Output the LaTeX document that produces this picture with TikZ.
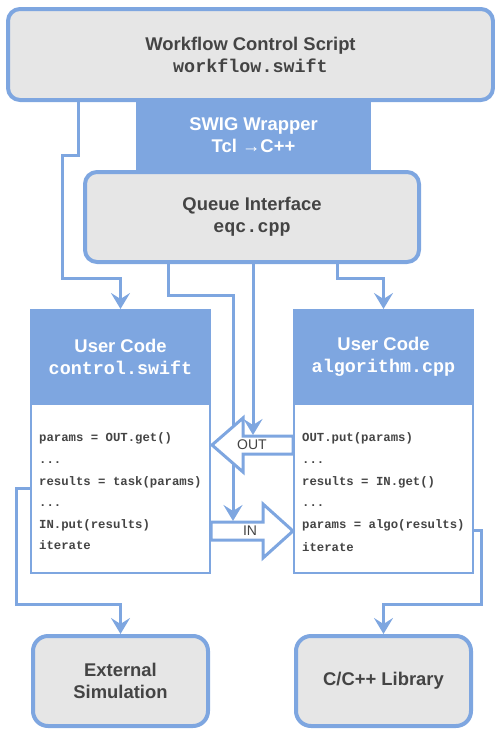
\documentclass[tikz,border=0pt]{standalone}
\usepackage{fontspec}
\setmainfont{Liberation Sans}
\setmonofont{Liberation Mono}
\usetikzlibrary{arrows.meta}
\definecolor{qblue}{HTML}{7EA6E0}
\definecolor{qgray}{HTML}{E6E6E6}
\definecolor{qtext}{HTML}{444444}
\tikzset{ box_style/.style = { rectangle % rounded grey box
        , rounded corners = 12pt
        , draw = qblue
        , line width = 4pt
        , fill = qgray
        , inner sep = 0pt
        , text = qtext
        , align = center
        , font = \bfseries\fontsize{18.4}{22}\selectfont
        }
        , head_style/.style = { rectangle % blue header
        , draw = qblue
        , fill = qblue
        , line width = 2pt
        , inner sep = 0pt
        , text = white
        , align = center
        , font = \bfseries\fontsize{18.4}{22}\selectfont
        }
        , body_style/.style = { rectangle % white code area
        , draw = qblue
        , fill = white
        , line width = 2pt
        , inner sep = 0pt
        }
        , code_style/.style = { anchor = base west % code line
        , inner sep = 0pt
        , text = qtext
        , font = \ttfamily\bfseries\fontsize{12.3}{14}\selectfont
        }
        }

\begin{document}
\begin{tikzpicture}[x=1pt, y=-1pt,
        edge_style/.style={draw=qblue, line width=3pt, -{Stealth[length=16pt,width=19pt,inset=6pt]}},
        block_style/.style={draw=qblue, line width=3pt, fill=white, line join=miter},
        flow_label_style/.style={inner sep=0pt, text=qtext, font=\fontsize{14}{16}\selectfont}]
        \useasboundingbox (0,0) rectangle (495,731);

        \node [head_style, minimum width=233, minimum height=69] (swig) at (253.5,135.5) {SWIG Wrapper\\Tcl →C++};
        \node [box_style, minimum width=485, minimum height=91] (wf) at (250.5,54.5) {Workflow Control Script\\\texttt{workflow.swift}};
        \node [box_style, minimum width=334, minimum height=90] (queue) at (252,217) {Queue Interface\\\texttt{eqc.cpp}};

        \node [body_style, minimum width=179, minimum height=169] (ucl_body) at (120.5,488.5) {};
        \node [head_style, minimum width=179, minimum height=94] (ucl_head) at (120.5,357) {User Code\\\texttt{control.swift}};
        \node [body_style, minimum width=179, minimum height=169] (ucr_body) at (383.5,488.5) {};
        \node [head_style, minimum width=179, minimum height=94] (ucr_head) at (383.5,357) {User Code\\\texttt{algorithm.cpp}};

        \node [box_style, rounded corners=15pt, minimum width=175, minimum height=90] (ext) at (120.5,681) {External\\Simulation};
        \node [box_style, rounded corners=15pt, minimum width=175, minimum height=90] (lib) at (383.5,681) {C/C++ Library};

        \node [code_style] (l1) at (39,441) {params = OUT.get()};
        \node [code_style] (l2) at (39,463) {...};
        \node [code_style] (l3) at (39,485) {results = task(params)};
        \node [code_style] (l4) at (39,506) {...};
        \node [code_style] (l5) at (39,528) {IN.put(results)};
        \node [code_style] (l6) at (39,549.5) {iterate};
        \node [code_style] (r1) at (302,441) {OUT.put(params)};
        \node [code_style] (r2) at (302,463) {...};
        \node [code_style] (r3) at (302,485) {results = IN.get()};
        \node [code_style] (r4) at (302,506) {...};
        \node [code_style] (r5) at (302,528) {params = algo(results)};
        \node [code_style] (r6) at (302,551) {iterate};

        \draw [edge_style] (wf.south -| 78,0) -- (78,155) -| (62,278) -| (ucl_head.north);
        \draw [edge_style] (queue.south -| 168,0) -- (168,295) -| (233,521);
        \draw [edge_style] (queue.south -| 253,0) -- (253,435);
        \draw [edge_style] (queue.south -| 337,0) -- (337,278) -| (ucr_head.north);
        \draw [edge_style] (ucl_body.west |- 0,488) -| (16,604) -| (ext.north);
        \draw [edge_style] (ucr_body.east |- 0,530) -| (481,604) -| (lib.north);

        \draw [block_style] (ucr_body.west |- 0,436) -- (243,436) -- (243,418) -- (212,445)
            -- (243,472) -- (243,454) -- (ucr_body.west |- 0,454) -- cycle;
        \draw [block_style] (ucl_body.east |- 0,522) -- (263,522) -- (263,504) -- (293,531)
            -- (263,558) -- (263,540) -- (ucl_body.east |- 0,540) -- cycle;
        \node [flow_label_style] (out_lbl) at (252,445) {OUT};
        \node [flow_label_style] (in_lbl) at (250,531) {IN};

        \end{tikzpicture}
\end{document}
